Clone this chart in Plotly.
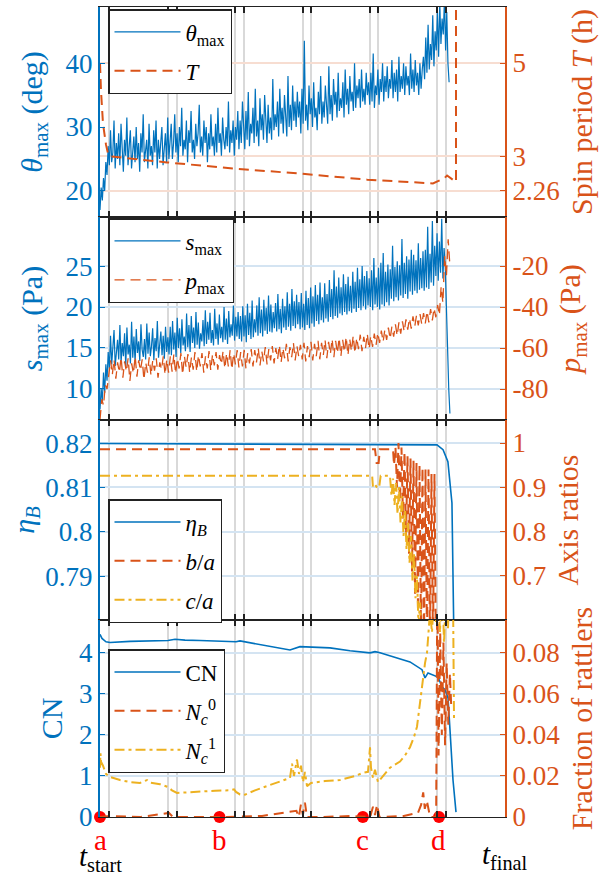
import numpy as np
import plotly.graph_objects as go

BLUE = "#0072BD"
ORANGE = "#D95319"
YELLOW = "#EDB120"
FONT = "Liberation Serif, Times New Roman, Times, serif"

# ---------------- data (time in % of run, t_start = 0, t_final = 100) ----------------
theta_max = [
    17, 20.5, 18.5, 22, 20, 24.5, 22.5, 27, 24,
    29.5, 24.5, 26, 31, 23.5, 27.5, 25, 29, 24, 30.5, 26.5, 23, 28, 25.5, 31.5, 24, 27, 29.5, 23.5, 26,
    28.5, 24.5, 30, 25, 27.5, 23, 29, 26, 32, 24.5, 26.5, 28, 23.5, 30.5, 25.5, 27, 24, 29.5, 26, 31,
    23.5, 28, 25, 27, 30, 24, 26.5, 29, 24.5, 31.5, 25,
    28.5, 30.5, 25, 27.5, 32, 26, 29, 24.5, 30, 27, 33, 25.5, 28, 26.5, 31, 24.5, 29.5, 27.5, 32.5, 26,
    28, 25, 30.5, 27, 29, 33.5, 26, 28.5, 25.5, 31, 27.5, 30, 24.5, 29, 26.5, 32, 27, 28.5, 25.5, 30.5,
    26, 33, 27.5, 29, 25.5, 31.5, 28, 26.5, 30, 27, 34, 26, 29.5, 27.5, 31, 25.5, 30, 28, 32.5, 26.5,
    31, 27.5, 34, 29, 26.5, 32.5, 28, 35.5, 27, 30.5, 29, 33, 27.5, 36, 28.5, 31, 27, 34.5, 29.5, 32,
    28, 35, 30, 27.5, 33.5, 29, 31.5, 28, 37.5, 29.5, 32, 30, 34, 28.5, 36, 30.5, 33, 29, 35, 31,
    28.5, 38, 30, 33.5, 29.5, 36.5, 31, 34, 30, 35.5, 31.5,
    34, 29, 36, 30.5, 43.5, 31, 33.5, 29.5, 36.5, 32, 34.5, 30, 37, 31.5, 33, 29.5, 35.5, 32, 38, 30.5,
    34, 31.5, 36.5, 33, 30.5, 39.5, 32, 35, 31, 37.5, 33.5, 35.5, 31.5, 38.5, 32.5, 34.5, 33, 37, 31.5, 39,
    33.5, 36, 32, 38, 34, 35.5, 32.5, 40, 33, 36.5, 34.5, 37.5, 33, 39, 34, 36, 33.5, 38.5, 35, 37,
    33.5, 38.5, 34, 41.5, 33, 36.5, 35, 39, 33.5, 37.5, 35.5, 40, 34, 38, 35.5, 39.5, 34.5, 37.5, 36, 40.5,
    34.5, 38.5, 35.5, 39, 34, 41, 35.5, 38, 36, 40, 35, 39.5, 36.5, 38, 35, 41.5, 36, 39, 35.5, 40.5,
    36.5, 38.5, 35, 40, 36, 39,
    41, 37.5, 44, 38.5, 46, 39, 43, 40.5, 47.5, 39.5, 45, 42, 48, 41, 49.5, 43, 47, 44.5, 50, 42, 48, 40, 37]
t_theta = np.linspace(0, 86.2, len(theta_max))

t_T = [0, 0.25, 0.74, 1.48, 2.0, 2.47, 16.5, 32.8, 49.4, 66.0, 82.2, 83.5, 85.0, 85.7, 87.9, 87.9]
spin_T = [5.0, 4.4, 3.7, 3.25, 3.05, 3.0, 2.87, 2.74, 2.63, 2.5, 2.42, 2.47, 2.53, 2.59, 2.45, 7.0]

s_max = [
    7.5, 10, 8.5, 12, 9.5, 13, 11, 14.5, 12.5,
    16.5, 13, 15, 17.2, 12.8, 14.5, 16, 13.6, 17.8, 13.2, 15.6, 14, 16.8, 12.7, 17.5, 14.2, 15.4, 13.1, 18.2, 13.8,
    16.4, 13.2, 17.3, 14.4, 15.8, 13.4, 17.9, 14.8, 13.9, 16.1, 13.6, 18, 14.3, 16.9, 14, 15.2, 17.4, 13.5, 16.2, 14.6,
    18.3, 13.8, 15.7, 17, 14.1, 16.5, 13.7, 17.6, 14.5, 16.3, 14.2,
    17.6, 14.1, 18.3, 14.8, 16.9, 13.9, 18.7, 15, 17.4, 14.4, 18.5, 15.3, 16.4, 14.6, 19.2, 15.1, 17.8, 14.5, 18.9, 15.6,
    17.5, 15, 19.4, 15.4, 18.1, 14.9, 16.8, 15.8, 18.4, 15.2, 19.6, 15.5, 18.2, 16, 19.3, 15.6, 17.2, 15.3, 19.8, 16.1,
    18, 15.4, 19.1, 16.2, 17.6, 15.7, 20, 16, 18.6, 15.5, 19.5, 16.3, 17.9, 16.5, 20.2, 15.9, 18.8, 16.4, 19.4, 16.1,
    18.9, 15.8, 20.1, 16.4, 19, 15.7, 20.4, 16.6, 19.3, 16.1, 20.8, 16.3, 18.5, 16.9, 20.2, 16.5, 21.2, 16.8, 19.7, 16.4,
    20.9, 17.1, 19.9, 16.7, 21.4, 17, 20.3, 16.9, 19.4, 17.4, 20.5, 17, 21.6, 17.3, 19.8, 16.8, 21, 17.5, 20.1, 17.2,
    21.8, 17.6, 20.4, 17.1, 22.2, 17.7, 20.7, 17.4, 21.5, 17.9, 20.6,
    17.3, 21.7, 17.5, 20.4, 17.2, 22, 17.8, 21.1, 17.4, 22.4, 18, 21.3, 17.6, 22.7, 18.3, 21.5, 17.9, 23, 18.4, 21.2,
    18.1, 22.9, 18.6, 21.6, 18.2, 23.3, 18.8, 22.2, 18.5, 24.5, 18.9, 22.5, 18.7, 23.6, 19.2, 22.4, 19, 24, 19.4, 22.8,
    19.1, 23.7, 19.5, 22.6, 19.3, 24.3, 19.8, 23.1, 19.4, 24.8, 19.9, 23.4, 19.6, 25, 20.1, 23.8, 19.7, 24.4, 20.2, 23.5,
    20, 24.5, 19.6, 26, 20.3, 23.6, 20, 24.8, 19.7, 25.4, 20.3, 26.6, 20.1, 24.3, 20.6, 25.2, 20.2, 24.6, 21, 27.5,
    20.7, 24.9, 21.2, 25.6, 20.8, 25.1, 21.4, 28.3, 21.1, 25.4, 21.6, 26.2, 21, 25.8, 21.9, 27, 21.5, 26.4, 22, 25.7,
    21.7, 27.8, 22.1, 26, 22.3, 26.8,
    22, 27, 22.4, 29.8, 22.2, 26.5, 23, 30.5, 22.6, 27.5, 23.8, 29, 23.2, 28, 24.2, 30.8, 23.5, 27.2, 25, 21, 15, 10, 7]
t_s = np.linspace(0, 86.4, len(s_max))

p_max = [
    -95, -85, -88, -78, -80, -73,
    -66, -73, -65.5, -75, -67, -72, -64.5, -74.5, -66.5, -71.5, -65, -76, -67.5, -72.5, -64, -74, -66, -71, -65.5, -75.5,
    -67, -72, -64.5, -73.5, -66, -71, -65, -74.5, -67, -70.5, -64, -73, -65.5, -72,
    -64, -71.5, -63, -72.5, -65, -70, -62.5, -73, -64, -69.5, -63, -72, -64.5, -70.5, -62, -71.5, -63.5, -69, -62.5, -72,
    -64, -70, -61.5, -71, -63, -68.5, -62, -70.5, -63.5, -68, -61.5, -70, -62.5, -69, -61, -70.5, -62.5, -68, -61, -69.5,
    -62, -69, -61, -70, -62.5, -67.5, -60.5, -69, -61, -67, -60, -68.5, -61.5, -66.5, -59.5, -68, -60.5, -66, -59, -67.5,
    -60, -65.5, -58.5, -67, -60, -65, -58, -66.5, -59.5, -64.5, -57.5, -66, -59, -64,
    -58.5, -65.5, -57.5, -66.5, -59, -64.5, -57, -66, -58, -64, -56.5, -65.5, -57.5, -63.5, -56, -65, -57, -63, -55.5, -64.5,
    -56.5, -62.5, -55, -64, -56, -62, -54.5, -63.5, -55.5, -61.5, -54, -62.5, -55, -60.5, -53.5, -61.5, -54.5, -60, -53, -60.5,
    -54, -59.5, -53, -58.5, -52.5, -57.5, -51.5, -57, -51, -56, -50, -55.5, -49.5, -54.5, -48.5, -54, -47.5, -53, -47, -52,
    -46, -51, -45.5, -50.5, -44.5, -49.5, -44, -49, -43.5, -48.5, -43,
    -48, -42, -47.5, -41, -46.5, -40.5, -45, -39, -44, -30, -38, -15, -25, -7, -20]
t_p = np.linspace(0, 86.4, len(p_max))

t_eta = [0, 50, 83.2, 84.7, 85.9, 86.9, 87.2, 87.4]
eta_B = [0.8199, 0.8198, 0.8196, 0.8185, 0.8158, 0.8065, 0.79, 0.775]

t_ba = [0, 67.9, 68.3, 68.8, 69.1, 72.35, 72.6, 72.96, 73.33, 73.7, 74.07, 74.44, 74.81, 75.19, 75.56, 75.93,
        76.3, 76.67, 77.04, 77.41, 77.78, 78.15, 78.52, 78.89, 79.26, 79.63, 80.0, 80.37, 80.74, 81.11,
        81.48, 81.85, 82.22, 82.59, 82.96]
b_over_a = [0.986, 0.986, 0.955, 0.955, 0.986, 0.986, 0.95, 0.99, 0.90, 1.0, 0.87, 0.99, 0.83, 0.98, 0.79, 0.97,
            0.75, 0.965, 0.71, 0.96, 0.66, 0.955, 0.62, 0.95, 0.57, 0.945, 0.55, 0.94, 0.55, 0.94,
            0.55, 0.93, 0.55, 0.93, 0.5]

t_ca = [0, 67.2, 67.4, 68.0, 68.5, 69.0, 69.3, 71.6, 71.98, 72.35, 72.72, 73.09, 73.46, 73.83, 74.2, 74.57,
        74.94, 75.31, 75.68, 76.05, 76.42, 76.79, 77.16, 77.53, 77.9, 78.27, 78.64, 79.01, 79.38]
c_over_a = [0.926, 0.926, 0.90, 0.905, 0.898, 0.905, 0.926, 0.926, 0.88, 0.92, 0.86, 0.91, 0.84, 0.90, 0.82, 0.88,
            0.79, 0.85, 0.76, 0.82, 0.73, 0.79, 0.69, 0.75, 0.65, 0.70, 0.59, 0.64, 0.55]

t_cn = [0, 0.49, 1.48, 2.47, 7.41, 12.35, 16.79, 18.52, 20.99, 24.69, 29.63, 33.58, 34.57, 39.51, 44.44,
        46.91, 49.38, 56.79, 61.73, 66.67, 67.9, 69.14, 76.54, 79.51, 80.25, 80.99, 83.46, 84.44, 85.19,
        85.93, 86.42, 87.16, 87.9]
CN = [4.45, 4.35, 4.27, 4.25, 4.28, 4.29, 4.3, 4.33, 4.31, 4.3, 4.29, 4.27, 4.29, 4.2, 4.12,
      4.07, 4.15, 4.12, 4.05, 4.0, 4.03, 4.0, 3.78, 3.59, 3.39, 3.51, 3.41, 3.17, 3.1,
      2.9, 2.12, 0.9, 0.12]

t_nc0 = [0, 2.5, 10, 17, 18, 30, 40, 48.5, 49.1, 49.6, 50.1, 50.6, 51.1, 55, 62, 66.7, 67.4, 67.9, 68.4, 69,
         75, 78.5, 79.3, 79.8, 80.2, 80.7, 81.5, 83.0, 83.3, 83.6, 84.0, 84.4, 84.8, 85.2, 85.6, 86.0, 86.4, 86.7]
Nc0 = [0, 0.0005, 0, 0.002, 0, 0, 0.0005, 0.003, 0, 0.006, 0.001, 0.007, 0, 0, 0.0005, 0, 0.005, 0.001, 0.006, 0,
       0.0005, 0.002, 0.006, 0.012, 0.004, 0.008, 0, 0, 0.12, 0.03, 0.09, 0.04, 0.085, 0.035, 0.075, 0.045, 0.07, 0.055]

t_nc1 = [0, 0.12, 0.25, 0.74, 1.48, 2.47, 4.94, 7.41, 9.88, 11.6, 12.35, 14.81, 16.79, 17.78, 19.01, 20.99,
         24.69, 28.4, 32.1, 33.09, 33.58, 34.57, 35.56, 38.27, 41.98, 44.44, 46.91, 47.41, 47.9, 48.64,
         49.14, 49.63, 50.12, 50.62, 51.11, 52.1, 55.56, 59.26, 62.96, 64.94, 66.17, 66.67, 66.91, 67.41,
         67.9, 68.64, 71.6, 74.07, 75.31, 76.54, 77.53, 78.27, 79.01, 79.75, 80.25, 80.74, 80.99, 81.48,
         81.98, 82.47, 82.96, 83.46, 83.95, 84.44, 84.94, 85.43, 85.93, 86.42, 87.16, 87.41]
Nc1 = [0.024, 0.031, 0.027, 0.025, 0.021, 0.0195, 0.018, 0.017, 0.0166, 0.018, 0.0168, 0.016, 0.0146, 0.013, 0.0117, 0.012,
       0.0122, 0.0128, 0.013, 0.0135, 0.0122, 0.011, 0.0107, 0.013, 0.0156, 0.0172, 0.019, 0.026, 0.02, 0.028,
       0.021, 0.025, 0.017, 0.022, 0.015, 0.0166, 0.0175, 0.018, 0.02, 0.0215, 0.022, 0.034, 0.024, 0.019,
       0.023, 0.017, 0.024, 0.027, 0.03, 0.034, 0.039, 0.044, 0.056, 0.067, 0.075, 0.08, 0.088, 0.1,
       0.09, 0.11, 0.095, 0.11, 0.09, 0.12, 0.085, 0.11, 0.092, 0.12, 0.11, 0.048]

x_ticks = [0, 2.3, 16.7, 19.0, 33.4, 35.6, 50.1, 52.1, 66.7, 68.7, 83.3, 85.4]
marker_t = [0, 29.5, 64.9, 83.7]
marker_lbl = ["a", "b", "c", "d"]

# ---------------- figure ----------------
W, H = 612, 875
ML, MR, MT, MB = 100, 107, 7, 58
ph = H - MT - MB
def py(px):
    return (H - MB - px) / ph

domains = [[py(217), 1.0], [py(420), py(217)], [py(620), py(420)], [0.0, py(620)]]

DASH = "10px,6px"
DASHDOT = "10px,4px,3px,4px"

fig = go.Figure()
def add(x, y, name, color, dash, xa, ya, legend, width=1.6):
    fig.add_trace(go.Scatter(x=x, y=y, name=name, mode="lines", xaxis=xa, yaxis=ya, legend=legend,
                             legendgroup=name, line=dict(color=color, width=width, dash=dash)))

add(t_theta, theta_max, "<i>θ</i><sub>max</sub>", BLUE, "solid", "x", "y", "legend", 1.2)
add(t_T, spin_T, "<i>T</i>", ORANGE, DASH, "x", "y2", "legend", 2)
add(t_s, s_max, "<i>s</i><sub>max</sub>", BLUE, "solid", "x2", "y3", "legend2", 1.2)
add(t_p, p_max, "<i>p</i><sub>max</sub>", ORANGE, DASH, "x2", "y4", "legend2", 1.3)
add(t_eta, eta_B, "<i>η</i><sub><i>B</i></sub>", BLUE, "solid", "x3", "y5", "legend3")
add(t_ba, b_over_a, "<i>b</i>/<i>a</i>", ORANGE, DASH, "x3", "y6", "legend3", 2)
add(t_ca, c_over_a, "<i>c</i>/<i>a</i>", YELLOW, DASHDOT, "x3", "y6", "legend3", 2)
add(t_cn, CN, "CN", BLUE, "solid", "x4", "y7", "legend4")
add(t_nc0, Nc0, "<i>N</i><sub><i>c</i></sub><sup>0</sup>", ORANGE, DASH, "x4", "y8", "legend4", 2)
add(t_nc1, Nc1, "<i>N</i><sub><i>c</i></sub><sup>1</sup>", YELLOW, DASHDOT, "x4", "y8", "legend4", 2)

fig.add_trace(go.Scatter(x=marker_t, y=[0] * len(marker_t), mode="markers", xaxis="x4", yaxis="y7",
                         marker=dict(color="#FF0000", size=12), showlegend=False, cliponaxis=False))

TICK = 27
TITLE = 30
tickfont_b = dict(family=FONT, size=TICK, color=BLUE)
tickfont_o = dict(family=FONT, size=TICK, color=ORANGE)

layout = dict(width=W, height=H, margin=dict(l=ML, r=MR, t=MT, b=MB),
              plot_bgcolor="white", paper_bgcolor="white", showlegend=True,
              font=dict(family=FONT, size=22, color="black"))

xnames = ["xaxis", "xaxis2", "xaxis3", "xaxis4"]
ynames_l = ["y", "y3", "y5", "y7"]
for i, xn in enumerate(xnames):
    layout[xn] = dict(domain=[0, 1], range=[0, 100], anchor=ynames_l[i], tickvals=x_ticks,
                      showticklabels=False, ticks="inside", ticklen=6, tickwidth=1.5, tickcolor="#222",
                      showgrid=True, gridcolor="#d9d9d9", gridwidth=1.5, zeroline=False,
                      showline=True, linecolor="#222", linewidth=1.3, mirror="ticks")

left_specs = [
    dict(range=[15.9, 48.8], tickvals=[20, 30, 40], ticktext=["20", "30", "40"],
         title="<i>θ</i><sub>max</sub> (deg)", grid=False, standoff=14),
    dict(range=[6.2, 31], tickvals=[10, 15, 20, 25], ticktext=["10", "15", "20", "25"],
         title="<i>s</i><sub>max</sub> (Pa)", grid=True, standoff=14),
    dict(range=[0.7801, 0.8252], tickvals=[0.79, 0.8, 0.81, 0.82], ticktext=["0.79", "0.8", "0.81", "0.82"],
         title="<i>η</i><sub><i>B</i></sub>", grid=True, standoff=2),
    dict(range=[0, 4.8], tickvals=[0, 1, 2, 3, 4], ticktext=["0", "1", "2", "3", "4"],
         title="CN", grid=True, standoff=8),
]
right_specs = [
    dict(range=[1.70, 6.2], tickvals=[2.26, 3, 5], ticktext=["2.26", "3", "5"],
         title="Spin period <i>T</i> (h)", grid=True, standoff=12),
    dict(range=[-95.1, 3.9], tickvals=[-80, -60, -40, -20], ticktext=["-80", "-60", "-40", "-20"],
         title="<i>p</i><sub>max</sub> (Pa)", grid=False, standoff=12),
    dict(range=[0.6007, 1.052], tickvals=[0.7, 0.8, 0.9, 1.0], ticktext=["0.7", "0.8", "0.9", "1"],
         title="Axis ratios", grid=False, standoff=12),
    dict(range=[0, 0.096], tickvals=[0, 0.02, 0.04, 0.06, 0.08], ticktext=["0", "0.02", "0.04", "0.06", "0.08"],
         title="Fraction of rattlers", grid=False, standoff=12),
]
for i in range(4):
    ln = "yaxis" if i == 0 else f"yaxis{2 * i + 1}"
    rn = f"yaxis{2 * i + 2}"
    xa = "x" if i == 0 else f"x{i + 1}"
    yl = "y" if i == 0 else f"y{2 * i + 1}"
    L, R = left_specs[i], right_specs[i]
    layout[ln] = dict(domain=domains[i], anchor=xa, side="left", range=L["range"], tickvals=L["tickvals"],
                      ticktext=L["ticktext"], tickfont=tickfont_b, ticks="inside", ticklen=5, tickcolor=BLUE,
                      showline=True, linecolor=BLUE, linewidth=2, zeroline=False,
                      showgrid=L["grid"], gridcolor="#d4e4f2", gridwidth=1.5,
                      title=dict(text=L["title"], font=dict(family=FONT, size=TITLE, color=BLUE),
                                 standoff=L["standoff"]))
    layout[rn] = dict(domain=domains[i], anchor=xa, overlaying=yl, side="right", range=R["range"],
                      tickvals=R["tickvals"], ticktext=R["ticktext"], tickfont=tickfont_o, ticks="inside",
                      ticklen=5, tickcolor=ORANGE, showline=True, linecolor=ORANGE, linewidth=2, zeroline=False,
                      showgrid=R["grid"], gridcolor="#f7ddd1", gridwidth=1.5,
                      title=dict(text=R["title"], font=dict(family=FONT, size=TITLE, color=ORANGE),
                                 standoff=R["standoff"]))

def px_x(p):
    return (p - ML) / (W - ML - MR)

leg_common = dict(bgcolor="white", bordercolor="#222", borderwidth=1.5, xanchor="left", yanchor="top",
                  font=dict(family=FONT, size=23, color="black"), itemwidth=66, tracegroupgap=6)
layout["legend"] = dict(x=px_x(108), y=py(9), **leg_common)
layout["legend2"] = dict(x=px_x(108), y=py(218), **leg_common)
layout["legend3"] = dict(x=px_x(108), y=py(499), **leg_common)
layout["legend4"] = dict(x=px_x(108), y=py(649), **leg_common)

ann = []
for tt, lbl in zip(marker_t, marker_lbl):
    ann.append(dict(x=tt, y=py(840), xref="x4", yref="paper", text=lbl, showarrow=False,
                    font=dict(family=FONT, size=29, color="#FF0000"), xanchor="center", yanchor="middle"))
ann.append(dict(x=0, y=py(858), xref="x4", yref="paper", text="<i>t</i><sub>start</sub>", showarrow=False,
                font=dict(family=FONT, size=29, color="black"), xanchor="center", yanchor="middle"))
ann.append(dict(x=100, y=py(856), xref="x4", yref="paper", text="<i>t</i><sub>final</sub>", showarrow=False,
                font=dict(family=FONT, size=29, color="black"), xanchor="center", yanchor="middle"))
layout["annotations"] = ann

fig.update_layout(**layout)
fig.write_html("out.html")
